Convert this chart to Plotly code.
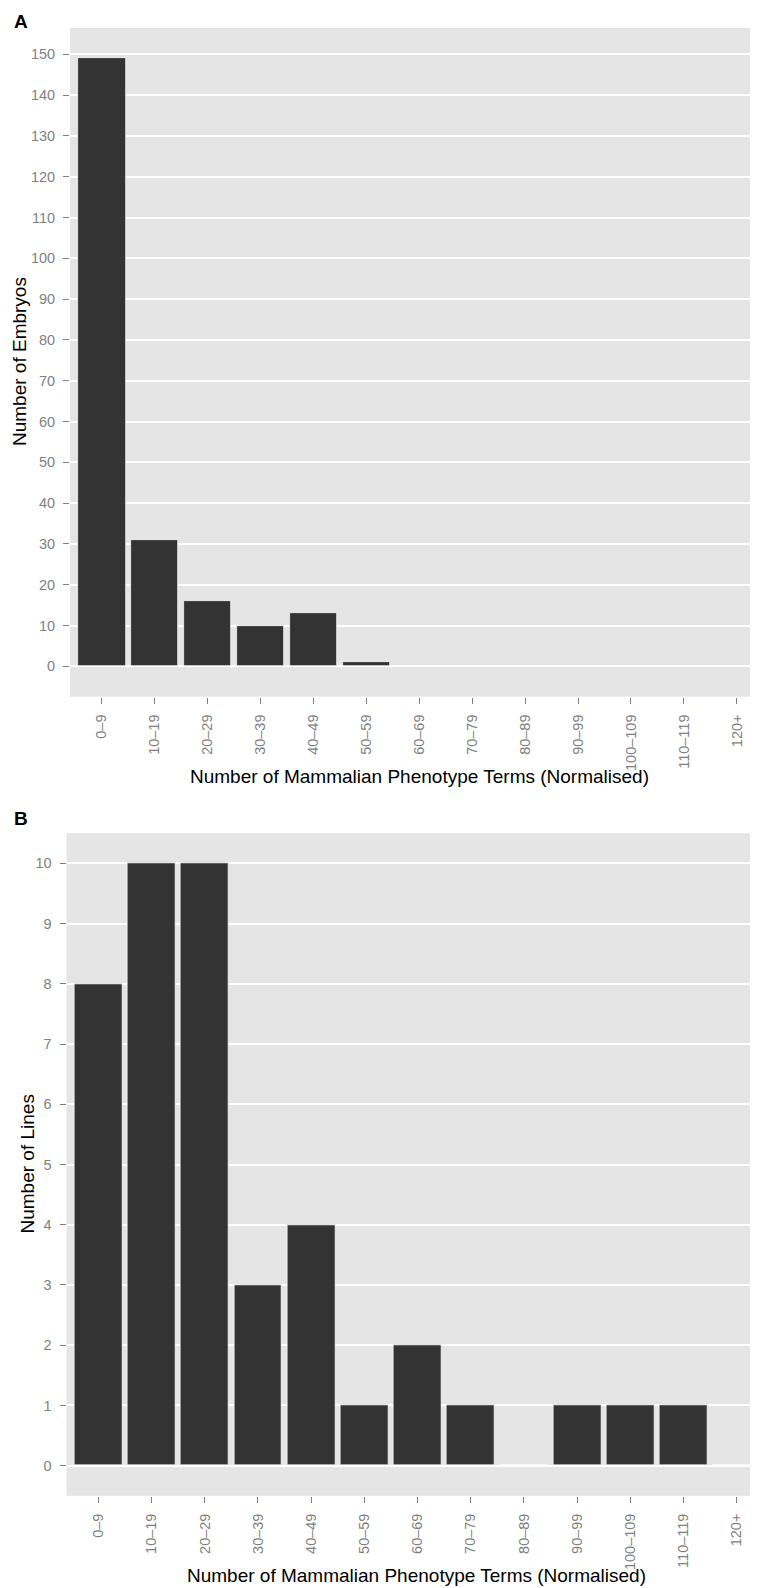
import plotly.graph_objects as go

categories = ["0\u20139", "10\u201319", "20\u201329", "30\u201339", "40\u201349", "50\u201359",
              "60\u201369", "70\u201379", "80\u201389", "90\u201399", "100\u2013109",
              "110\u2013119", "120+"]
embryos = [149, 31, 16, 10, 13, 1, 0, 0, 0, 0, 0, 0, 0]
lines = [8, 10, 10, 3, 4, 1, 2, 1, 0, 1, 1, 1, 0]
yticks_a = list(range(0, 151, 10))
yticks_b = list(range(0, 11, 1))

# The page body has an 8px default margin; the figure is sized to fill the rest.
OFF = 8
W, H = 758 - OFF, 1588 - OFF
FONT = "Liberation Sans, Arial, Helvetica, sans-serif"
BAR = "#333333"
BG = "#e5e5e5"
TICKTXT = "#7f7f7f"
TICKCOL = "#7f7f7f"

def px_x(px):
    return (px - OFF) / W

def px_y(px):
    return 1 - (px - OFF) / H

fig = go.Figure()
fig.add_trace(go.Bar(x=categories, y=embryos, xaxis="x", yaxis="y", width=0.9,
                     marker=dict(color=BAR, line=dict(color="white", width=0.7)),
                     showlegend=False))
fig.add_trace(go.Bar(x=categories, y=lines, xaxis="x2", yaxis="y2", width=0.9,
                     marker=dict(color=BAR, line=dict(color="white", width=0.7)),
                     showlegend=False))

common_x = dict(type="category", showgrid=False, zeroline=False, showline=False,
                ticks="outside", ticklen=6, tickwidth=1, tickcolor=TICKCOL,
                tickangle=-90, tickfont=dict(family=FONT, size=14.5, color=TICKTXT),
                ticklabelstandoff=5, range=[-0.6, 12.4])
common_y = dict(showgrid=True, gridcolor="white", gridwidth=1.8, zeroline=False,
                showline=False, ticks="outside", ticklen=6, tickwidth=1,
                tickcolor=TICKCOL, tickfont=dict(family=FONT, size=14.5, color=TICKTXT),
                ticklabelstandoff=5)

fig.update_layout(
    width=W, height=H,
    margin=dict(l=0, r=0, t=0, b=0),
    paper_bgcolor="white",
    plot_bgcolor=BG,
    bargap=0,
    xaxis=dict(common_x, domain=[px_x(70), 1], anchor="y"),
    yaxis=dict(common_y, domain=[px_y(696.7), px_y(28)], anchor="x",
               range=[-7.45, 156.45], tickvals=yticks_a),
    xaxis2=dict(common_x, domain=[px_x(66.5), 1], anchor="y2"),
    yaxis2=dict(common_y, domain=[px_y(1495.8), px_y(833.2)], anchor="x2",
                range=[-0.5, 10.5], tickvals=yticks_b),
)

TITLE_FONT = dict(family=FONT, size=19, color="black")
ann = [
    dict(text="<b>A</b>", x=px_x(20.5), y=px_y(21), xanchor="center", yanchor="middle",
         font=dict(family=FONT, size=19, color="black")),
    dict(text="<b>B</b>", x=px_x(21), y=px_y(819), xanchor="center", yanchor="middle",
         font=dict(family=FONT, size=19, color="black")),
    dict(text="Number of Mammalian Phenotype Terms (Normalised)", x=px_x(419), y=px_y(777),
         xanchor="center", yanchor="middle", font=TITLE_FONT),
    dict(text="Number of Mammalian Phenotype Terms (Normalised)", x=px_x(416), y=px_y(1575),
         xanchor="center", yanchor="middle", font=TITLE_FONT),
    dict(text="Number of Embryos", x=px_x(20), y=px_y(362), xanchor="center", yanchor="middle",
         textangle=-90, font=TITLE_FONT),
    dict(text="Number of Lines", x=px_x(27), y=px_y(1164.5), xanchor="center", yanchor="middle",
         textangle=-90, font=TITLE_FONT),
]
for a in ann:
    a.update(xref="paper", yref="paper", showarrow=False)
fig.update_layout(annotations=ann)

fig.write_html("out.html")
